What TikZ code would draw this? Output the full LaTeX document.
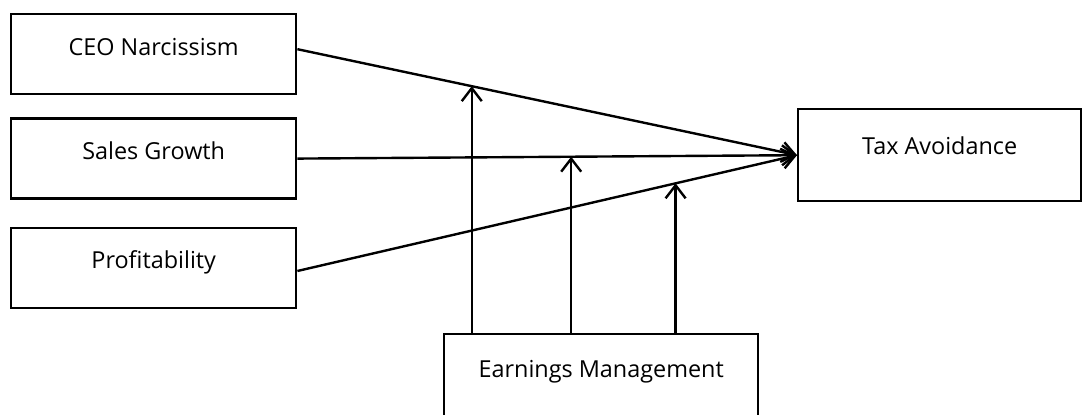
\documentclass[tikz,border=0pt]{standalone}
\usepackage{fontspec}
\setmainfont{Open Sans}
\usepackage{tikz}
\usetikzlibrary{arrows.meta,positioning}
\definecolor{mdink}{HTML}{000000}

\begin{document}
\begin{tikzpicture}[x=0.5pt,y=-0.5pt,
    varbox/.style={draw=mdink,line width=1.2pt,inner xsep=0pt,inner ysep=0pt,text height=20.5pt,text depth=19.5pt,font=\fontsize{11.7}{14}\selectfont},
    link/.style={draw=mdink,line width=1.2pt,-{Straight Barb[length=6.5pt,width=10pt,line width=1.2pt]}}]
      \useasboundingbox (0,0) rectangle (1082,415);
      \node[varbox,minimum width=142.5pt,anchor=north west] (ceo) at (10,13) {CEO Narcissism};
      \node[varbox,minimum width=142.5pt,below=11pt of ceo] (sales) {Sales Growth};
      \node[varbox,minimum width=142.5pt,below=13.5pt of sales] (prof) {Profitability};
      \node[varbox,minimum width=141.5pt,text depth=23.5pt,text height=22.5pt,anchor=north west] (tax) at (797,108) {Tax Avoidance};
      \node[varbox,minimum width=157pt,text depth=25pt,text height=21.5pt,anchor=north west] (em) at (443,333) {Earnings Management};
      % direct effects
      \draw[link] ([yshift=2.5pt]ceo.east) -- (tax.west) coordinate[pos=0.349] (m1);
      \draw[link] (sales.east) -- (tax.west) coordinate[pos=0.548] (m2);
      \draw[link] ([yshift=-1.5pt]prof.east) -- (tax.west) coordinate[pos=0.757] (m3);
      % moderation
      \draw[link] (m1 |- em.north) -- (m1);
      \draw[link] (m2 |- em.north) -- (m2);
      \draw[link] (m3 |- em.north) -- (m3);
    \end{tikzpicture}
\end{document}
